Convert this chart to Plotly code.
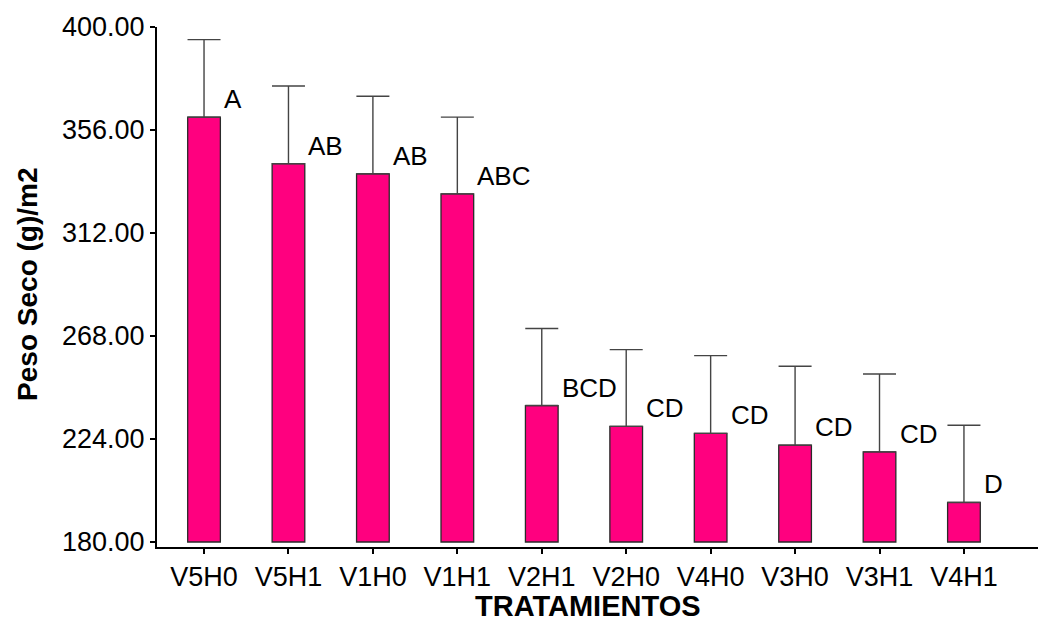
import plotly.graph_objects as go

# Treatments and mean dry weight (g/m2), upper error and Tukey groups
tratamientos = ["V5H0", "V5H1", "V1H0", "V1H1", "V2H1",
                "V2H0", "V4H0", "V3H0", "V3H1", "V4H1"]
peso_seco = [361.5, 341.6, 337.3, 328.7, 238.3,
             229.4, 226.4, 221.4, 218.5, 196.9]
error_sup = [33.1, 33.2, 33.1, 32.8, 32.9,
             32.8, 33.2, 33.7, 33.3, 33.0]
grupos = ["A", "AB", "AB", "ABC", "BCD", "CD", "CD", "CD", "CD", "D"]

y_ticks = [180, 224, 268, 312, 356, 400]
base = 180

FONT = "Liberation Sans, Arial, sans-serif"
BAR_COLOR = "#FF007F"

xs = list(range(len(tratamientos)))

fig = go.Figure()
fig.add_trace(go.Bar(
    x=xs,
    y=[v - base for v in peso_seco],
    base=[base] * len(peso_seco),
    width=0.387,
    marker=dict(color=BAR_COLOR, line=dict(color="#2a2a2a", width=1.3)),
    error_y=dict(type="data", array=error_sup, arrayminus=[0] * len(error_sup),
                 symmetric=False, color="#444444", thickness=1.4, width=16.5),
    hovertemplate="%{customdata}: %{y}<extra></extra>",
    customdata=tratamientos,
))

# group letters beside each bar
for i, (v, g) in enumerate(zip(peso_seco, grupos)):
    fig.add_annotation(
        x=i, y=v, text=g, showarrow=False,
        xanchor="left", yanchor="middle", xshift=18, yshift=18,
        font=dict(family=FONT, size=26, color="#000000"),
    )

# axis titles
fig.add_annotation(
    xref="paper", yref="paper", x=0.489, y=-0.113,
    text="<b>TRATAMIENTOS</b>", showarrow=False,
    xanchor="center", yanchor="middle",
    font=dict(family=FONT, size=29, color="#000000"),
)
fig.add_annotation(
    xref="paper", yref="paper", x=-0.147, y=0.505,
    text="<b>Peso Seco (g)/m2</b>", showarrow=False, textangle=-90,
    xanchor="center", yanchor="middle",
    font=dict(family=FONT, size=28, color="#000000"),
)

fig.update_layout(
    width=1038, height=617,
    margin=dict(l=157, r=0, t=27, b=70),
    paper_bgcolor="white", plot_bgcolor="white",
    showlegend=False,
    font=dict(family=FONT, color="#000000"),
)
fig.update_xaxes(
    range=[-0.557, 9.877],
    tickmode="array", tickvals=xs, ticktext=tratamientos,
    ticks="outside", ticklen=5, tickwidth=1.5, tickcolor="#000000",
    showline=True, linecolor="#000000", linewidth=2,
    showgrid=False, zeroline=False,
    tickfont=dict(family=FONT, size=27, color="#000000"),
)
fig.update_yaxes(
    range=[177.87, 400],
    tickmode="array", tickvals=y_ticks,
    ticktext=[f"{t:.2f}" for t in y_ticks],
    ticks="outside", ticklen=5, tickwidth=1.5, tickcolor="#000000",
    showline=True, linecolor="#000000", linewidth=2,
    showgrid=False, zeroline=False,
    tickfont=dict(family=FONT, size=27, color="#000000"),
)

fig.write_html("out.html")
